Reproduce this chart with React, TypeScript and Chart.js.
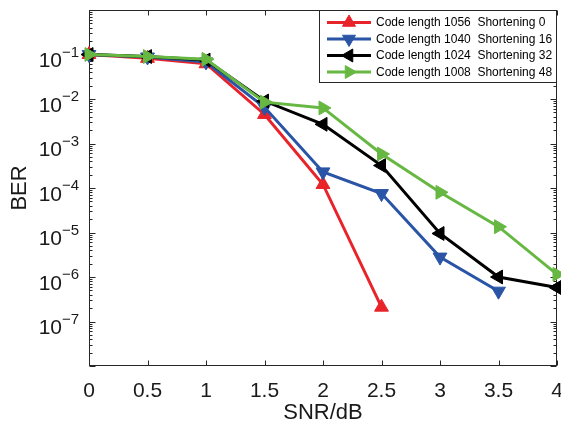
import React, { useEffect, useRef } from 'react';
import { Chart, registerables } from 'chart.js';

Chart.register(...registerables);

// ---- data ----
const snrDb = [0, 0.5, 1, 1.5, 2, 2.5, 3, 3.5, 4];
const berLen1056 = [0.1, 0.082, 0.062, 4.5e-3, 1.2e-4, 2.1e-7];
const berLen1040 = [0.1, 0.088, 0.068, 6.5e-3, 2.3e-4, 7.5e-5, 2.8e-6, 4.8e-7];
const berLen1024 = [0.1, 0.09, 0.075, 9e-3, 2.7e-3, 3.2e-4, 9.5e-6, 1.0e-6, 5.8e-7];
const berLen1008 = [0.1, 0.09, 0.078, 8.5e-3, 6.3e-3, 5.8e-4, 8.0e-5, 1.35e-5, 1.15e-6];
const seriesNames = [
  'Code length 1056  Shortening 0',
  'Code length 1040  Shortening 16',
  'Code length 1024  Shortening 32',
  'Code length 1008  Shortening 48',
];
const xTickValues = [0, 0.5, 1, 1.5, 2, 2.5, 3, 3.5, 4];
const yTickExponents = [-1, -2, -3, -4, -5, -6, -7];
const xTitle = 'SNR/dB';
const yTitle = 'BER';

// ---- styles ----
const colors = ['#E8232A', '#2A55A6', '#000000', '#67B843'];
const rotations = [0, 180, -90, 90];
const FONT = '"Liberation Sans", Arial, Helvetica, sans-serif';
const AXIS_COLOR = '#262626';

function drawTri(ctx: CanvasRenderingContext2D, cx: number, cy: number, r: number, rotDeg: number, color: string) {
  let a = (rotDeg * Math.PI) / 180;
  ctx.beginPath();
  for (let i = 0; i < 3; i++) {
    const px = cx + Math.sin(a) * r;
    const py = cy - Math.cos(a) * r;
    if (i === 0) ctx.moveTo(px, py);
    else ctx.lineTo(px, py);
    a += (2 * Math.PI) / 3;
  }
  ctx.closePath();
  ctx.fillStyle = color;
  ctx.strokeStyle = color;
  ctx.lineWidth = 1;
  ctx.fill();
  ctx.stroke();
}

const framePlugin = {
  id: 'matlabFrame',
  beforeDatasetsDraw(chart: any) {
    const { ctx, chartArea: a, scales } = chart;
    const x = scales.x;
    const y = scales.y;
    ctx.save();
    ctx.strokeStyle = AXIS_COLOR;
    ctx.lineWidth = 1;
    const L = Math.round(a.left) + 0.5;
    const R = Math.round(a.right) - 0.5;
    const T = Math.round(a.top) + 0.5;
    const B = Math.round(a.bottom) - 0.5;
    ctx.strokeRect(L, T, R - L, B - T);
    ctx.beginPath();
    // x ticks (inward)
    xTickValues.forEach((v) => {
      const px = Math.round(x.getPixelForValue(v)) + 0.5;
      ctx.moveTo(px, B);
      ctx.lineTo(px, B - 5);
      ctx.moveTo(px, T);
      ctx.lineTo(px, T + 5);
    });
    // y ticks major + minor
    for (let e = -8; e <= 0; e++) {
      for (let m = 1; m <= 9; m++) {
        const v = m * Math.pow(10, e);
        if (v < y.min * 0.999 || v > y.max * 1.001) continue;
        const py = Math.round(y.getPixelForValue(v)) + 0.5;
        const len = m === 1 ? 6 : 3;
        ctx.moveTo(L, py);
        ctx.lineTo(L + len, py);
        ctx.moveTo(R, py);
        ctx.lineTo(R - len, py);
      }
    }
    ctx.stroke();

    // x tick labels
    ctx.fillStyle = '#1a1a1a';
    ctx.font = `21px ${FONT}`;
    ctx.textAlign = 'center';
    ctx.textBaseline = 'middle';
    xTickValues.forEach((v) => {
      ctx.fillText(String(v), x.getPixelForValue(v), a.bottom + 25);
    });
    // y tick labels 10^e
    yTickExponents.forEach((e) => {
      const py = y.getPixelForValue(Math.pow(10, e));
      ctx.font = `21px ${FONT}`;
      ctx.textAlign = 'right';
      ctx.textBaseline = 'alphabetic';
      ctx.fillText('10', a.left - 27, py + 12.5);
      ctx.font = `15px ${FONT}`;
      ctx.textAlign = 'left';
      ctx.fillText('\u2212' + String(-e), a.left - 27, py + 2);
    });
    // titles
    ctx.font = `22px ${FONT}`;
    ctx.textAlign = 'center';
    ctx.textBaseline = 'middle';
    ctx.fillText(xTitle, (a.left + a.right) / 2, a.bottom + 47);
    ctx.save();
    ctx.translate(20, (a.top + a.bottom) / 2);
    ctx.rotate(-Math.PI / 2);
    ctx.fillText(yTitle, 0, 0);
    ctx.restore();
    ctx.restore();
  },
  afterDatasetsDraw(chart: any) {
    const { ctx, chartArea: a } = chart;
    ctx.save();
    const bx = 319.5;
    const by = Math.round(a.top) + 0.5;
    const bw = Math.round(a.right) - 0.5 - bx;
    const bh = 72;
    ctx.fillStyle = '#ffffff';
    ctx.fillRect(bx, by, bw, bh);
    ctx.strokeStyle = AXIS_COLOR;
    ctx.lineWidth = 1;
    ctx.strokeRect(bx, by, bw, bh);
    seriesNames.forEach((name, i) => {
      const ry = by + 12 + i * 16.5;
      ctx.strokeStyle = colors[i];
      ctx.lineWidth = 3;
      ctx.beginPath();
      ctx.moveTo(327, ry);
      ctx.lineTo(371, ry);
      ctx.stroke();
      drawTri(ctx, 349, ry, 7.5, rotations[i], colors[i]);
      ctx.fillStyle = '#000000';
      ctx.font = `12px ${FONT}`;
      ctx.textAlign = 'left';
      ctx.textBaseline = 'middle';
      ctx.fillText(name, 376, ry + 0.5);
    });
    ctx.restore();
  },
};

export default function App() {
  const ref = useRef<HTMLCanvasElement | null>(null);
  useEffect(() => {
    if (!ref.current) return;
    const all = [berLen1056, berLen1040, berLen1024, berLen1008];
    const datasets = all.map((vals, i) => ({
      label: seriesNames[i],
      data: vals.map((v, j) => ({ x: snrDb[j], y: v })),
      borderColor: colors[i],
      backgroundColor: colors[i],
      borderWidth: 3,
      pointStyle: 'triangle',
      pointRotation: rotations[i],
      pointRadius: 8,
      pointBorderWidth: 1,
      pointBackgroundColor: colors[i],
      pointBorderColor: colors[i],
      tension: 0,
      clip: false as any,
      order: 3 - i,
    }));
    const chart = new Chart(ref.current, {
      type: 'line',
      data: { datasets },
      options: {
        animation: false,
        responsive: false,
        layout: { autoPadding: false, padding: { left: 89, top: 10, right: 4, bottom: 64 } },
        plugins: { legend: { display: false }, tooltip: { enabled: false } },
        scales: {
          x: { type: 'linear', min: 0, max: 4, display: false },
          y: { type: 'logarithmic', min: 1e-8, max: 1, display: false },
        },
      },
      plugins: [framePlugin],
    });
    return () => chart.destroy();
  }, []);
  return (
    <div style={{ position: 'absolute', left: 0, top: 0, width: 561, height: 430, background: '#fff' }}>
      <canvas ref={ref} width={561} height={430} style={{ display: 'block' }} />
    </div>
  );
}
